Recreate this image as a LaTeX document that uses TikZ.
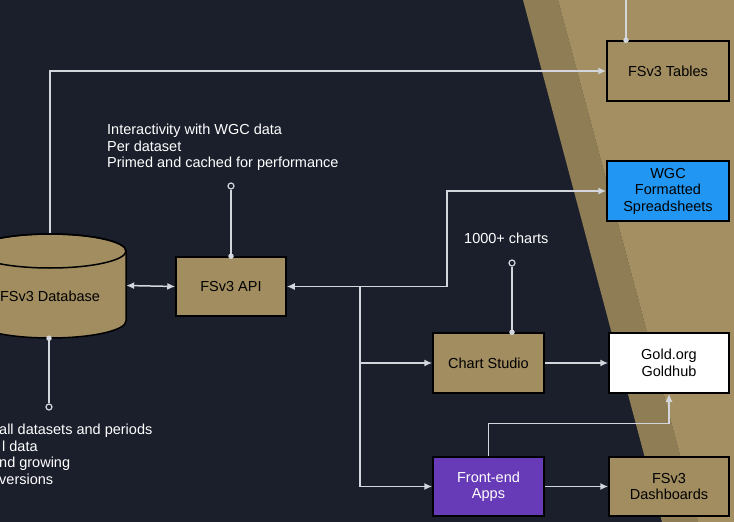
\documentclass[tikz,border=0pt]{standalone}
\usepackage{fontspec}
\setmainfont{Liberation Sans}
\usetikzlibrary{arrows.meta}

\definecolor{bgnavy}{HTML}{1B1F2B}
\definecolor{goldlight}{HTML}{A38F62}
\definecolor{golddark}{HTML}{8E7D55}
\definecolor{goldbox}{HTML}{A18D5F}
\definecolor{wgcblue}{HTML}{2196F3}
\definecolor{apppurple}{HTML}{673AB7}
\definecolor{wire}{HTML}{D3D6DC}

\tikzset{
box/.style={draw=black, line width=1.5pt, fill=goldbox, text=black, align=center, inner sep=2pt, minimum width=122, minimum height=60},
link/.style={draw=wire, line width=1.5pt},
note/.style={text=white, align=left, inner sep=0pt},
dot/.style={circle, fill=wire, inner sep=0pt, minimum size=5.5},
hole/.style={circle, draw=wire, fill=bgnavy, line width=1.2pt, inner sep=0pt, minimum size=6}
}

\begin{document}
\begin{tikzpicture}[>={Latex[length=8pt, width=7pt]}, x=1pt, y=-1pt, font=\fontsize{14.5}{16.5}\selectfont]

% background and gold band
\fill[bgnavy] (0,0) rectangle (734,522);
\clip (0,0) rectangle (734,522);
\fill[golddark] (523,0) -- (558,0) -- (698,522) -- (662,522) -- cycle;
\fill[goldlight] (558,0) -- (734,0) -- (734,522) -- (698,522) -- cycle;

% database drum
\filldraw[fill=goldbox, draw=black, line width=1.5pt] (-26,251) -- (-26,321) arc[start angle=180, end angle=0, x radius=76, y radius=17] -- (126,251) arc[start angle=0, end angle=-180, x radius=76, y radius=17] -- cycle;
\draw[black, line width=1.5pt] (50,251) ellipse[x radius=76, y radius=17];
\node[inner sep=0pt, minimum width=152, minimum height=105] (db) at (50,285.5) {};
\node (dblabel) at (50,296) {FSv3 Database};

% boxes
\node[box, minimum width=110, minimum height=59] (api) at (231,286.5) {FSv3 API};
\node[box] (tables) at (668,71) {FSv3 Tables};
\node[box, fill=wgcblue] (wgc) at (668,191) {WGC\\Formatted\\Spreadsheets};
\node[box, minimum width=111] (chart) at (488.5,363) {Chart Studio};
\node[box, fill=white, minimum width=120] (gold) at (669,363) {Gold.org\\Goldhub};
\node[box, fill=apppurple, text=white, minimum width=111, minimum height=59] (apps) at (488.5,486.5) {Front-end\\Apps};
\node[box, minimum width=120, minimum height=59] (dash) at (669,486.5) {FSv3\\Dashboards};

% notes
\node[note, anchor=north west] (apinote) at (107,124) {Interactivity with WGC data\\Per dataset\\Primed and cached for performance};
\node[note, anchor=north west] (chartnote) at (464,233) {1000+ charts};
\node[note, anchor=north west] (dbnote) at (-1,424) {all datasets and periods\\\hspace{3pt}l data\\nd growing\\versions};

\coordinate (split) at (360,286.5);
\coordinate (bend) at (447,286.5);
\coordinate (feed) at (626,-2);
\node[hole] (apihole) at (231,186) {};
\node[hole] (charthole) at (512,263) {};
\node[hole] (dbhole) at (49,407) {};

% connectors
\draw[link, <->] (db.east) -- (api.west);
\draw[link, ->] (db.north) |- (tables.west);
\draw[link, ->] (split) -- (api.east);
\draw[link, ->] (split) -- (bend) |- (wgc.west);
\draw[link, ->] (split) |- (chart.west);
\draw[link, ->] (split) |- (apps.west);
\draw[link, ->] (chart.east) -- (gold.west);
\draw[link, ->] (apps.east) -- (dash.west);
\draw[link, ->] (apps.north) -- ++(0,-33) -| (gold.south);

\draw[link] (apihole) -- (api.north) node[dot] {};
\draw[link] (charthole) -- (charthole |- chart.north) node[dot] {};
\draw[link] (dbhole) -- (dbhole |- db.south) node[dot] {};
\draw[link] (feed) -- (feed |- tables.north) node[dot] {};

\end{tikzpicture}
\end{document}
